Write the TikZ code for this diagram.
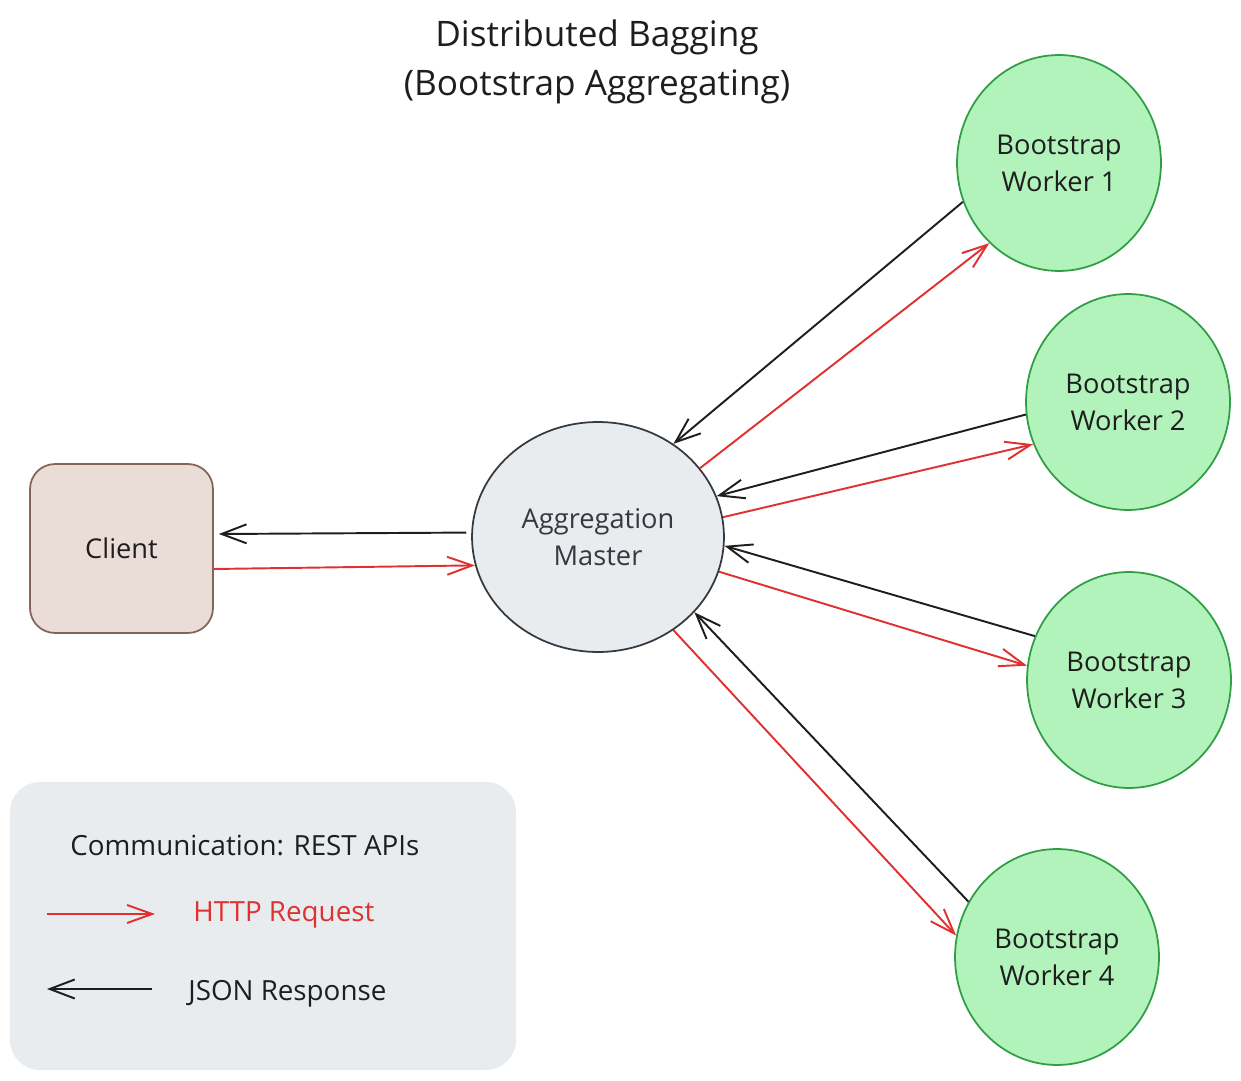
\documentclass[tikz,border=0pt]{standalone}
\usepackage{fontspec}
\setmainfont{Open Sans}
\usetikzlibrary{arrows.meta,shapes.geometric}

\definecolor{reqred}{HTML}{E03131}
\definecolor{inkblack}{HTML}{1E1E1E}
\definecolor{masterfill}{HTML}{E9ECEF}
\definecolor{masterdraw}{HTML}{343A40}
\definecolor{clientfill}{HTML}{EADDD7}
\definecolor{clientdraw}{HTML}{846358}
\definecolor{workerfill}{HTML}{B2F2BB}
\definecolor{workerdraw}{HTML}{2F9E44}

\begin{document}
\begin{tikzpicture}[
	x=0.02cm, y=-0.02cm,
	every node/.style={font=\fontsize{15.5}{21}\selectfont, text=inkblack},
	client/.style={rectangle, rounded corners=0.5cm, draw=clientdraw, fill=clientfill, line width=1pt, minimum width=3.66cm, minimum height=3.38cm, inner sep=0pt},
	master/.style={ellipse, draw=masterdraw, fill=masterfill, line width=1pt, minimum width=5.04cm, minimum height=4.6cm, inner sep=0pt, align=center, text=masterdraw},
	worker/.style={ellipse, draw=workerdraw, fill=workerfill, line width=1pt, minimum width=4.08cm, minimum height=4.32cm, inner sep=0pt, align=center},
	legendtext/.style={anchor=west, inner sep=0pt, font=\fontsize{15.8}{21}\selectfont},
	request/.style={-{Straight Barb[length=0.5cm, width=0.36cm]}, line width=1.1pt, draw=reqred},
	response/.style={-{Straight Barb[length=0.5cm, width=0.38cm]}, line width=1.1pt, draw=inkblack}
]
\useasboundingbox (0,0) rectangle (1241,1081);
\node (title) [align=center, font=\fontsize{20}{28}\selectfont] at (597,62) {Distributed Bagging\\(Bootstrap Aggregating)};
\node (client) [client] at (121.5,548.5) {Client};
\node (master) [master] at (598,537) {Aggregation\\Master};
\node (worker1) [worker] at (1059,163) {Bootstrap\\Worker 1};
\node (worker2) [worker] at (1128,402) {Bootstrap\\Worker 2};
\node (worker3) [worker] at (1129,680) {Bootstrap\\Worker 3};
\node (worker4) [worker] at (1057,957) {Bootstrap\\Worker 4};
\draw [request] ([yshift=-0.41cm]client.east) -- (master.193);
\draw [response] ([xshift=-0.1cm]master.178) -- ([xshift=0.1cm, yshift=0.29cm]client.east);
\draw [request] (master.34) -- (worker1.229);
\draw [response] (worker1.202) -- (master.51);
\draw [request] (master.9) -- (worker2.204);
\draw [response] (worker2.187) -- (master.19);
\draw [request] (master.-16) -- (worker3.172);
\draw [response] (worker3.155) -- (master.-4);
\draw [request] (master.-51) -- (worker4.168);
\draw [response] (worker4.148) -- (master.-38);
\fill [masterfill, rounded corners=0.6cm] (10,782) rectangle (516,1070);
\node (legendtitle) [legendtext] at (70,846) {Communication: REST APIs};
\node (reqlabel) [legendtext, text=reqred] at (193,915) {HTTP Request};
\node (reslabel) [legendtext] at (188,994) {JSON Response};
\coordinate (reqfrom) at (47,914);
\coordinate (reqto) at (155,914);
\coordinate (resfrom) at (152,989);
\coordinate (resto) at (47,989);
\draw [request] (reqfrom) -- (reqto);
\draw [response] (resfrom) -- (resto);
\end{tikzpicture}
\end{document}
